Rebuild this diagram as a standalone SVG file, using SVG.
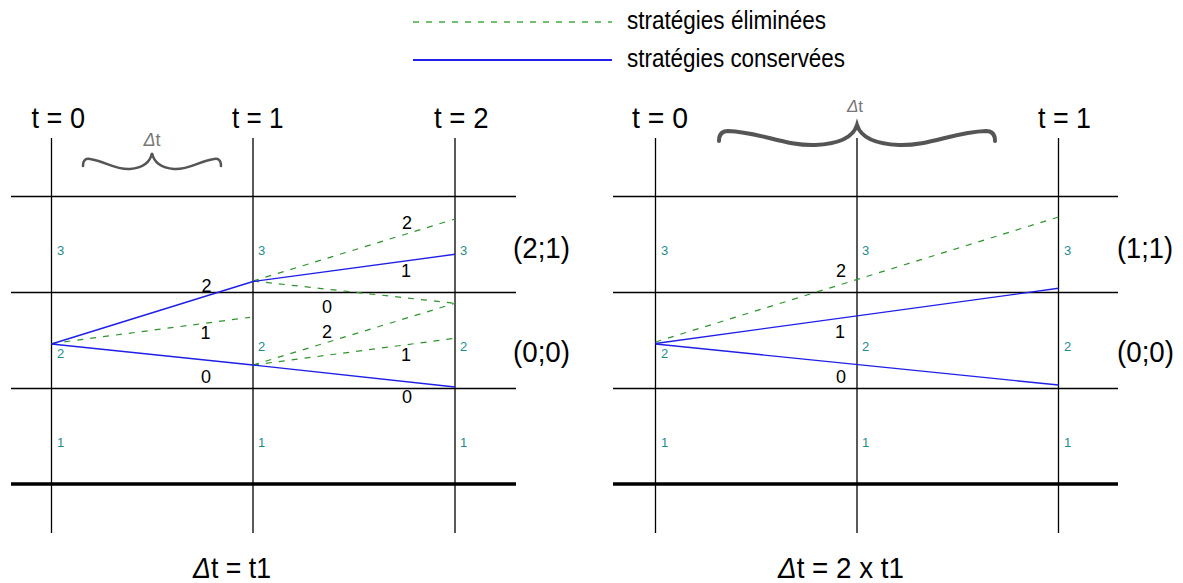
<svg xmlns="http://www.w3.org/2000/svg" width="1183" height="583" viewBox="0 0 1183 583">
<style>
text{font-family:"Liberation Sans",Arial,sans-serif}
.grid{stroke:#000;stroke-width:1.3;fill:none}
.thick{stroke:#000;stroke-width:3.5;fill:none}
.kept{stroke:#1f1fe6;stroke-width:1.4;fill:none}
.elim{stroke:#2f932f;stroke-width:1.2;stroke-dasharray:6 7;fill:none}
.brace{stroke:#555;fill:none;stroke-linecap:round}
.t{font-size:30px;fill:#000}
.b{font-size:29px;fill:#000}
.dt{fill:#777}
.lvl{font-size:13px;fill:#1f8c8c}
.num{font-size:18px;fill:#000;text-anchor:middle}
.pay{font-size:29px;fill:#000}
.leg{font-size:25px;fill:#000}
</style>
<rect width="1183" height="583" fill="#fff"/>

<g id="legend">
<line x1="413" y1="22" x2="612" y2="22" class="elim" style="stroke:#44aa44;stroke-width:1.4"/>
<line x1="413" y1="60" x2="612" y2="60" class="kept" style="stroke-width:2.2"/>
<text x="627" y="29" class="leg" textLength="199" lengthAdjust="spacingAndGlyphs">stratégies éliminées</text>
<text x="627" y="67" class="leg" textLength="218" lengthAdjust="spacingAndGlyphs">stratégies conservées</text>
</g>

<g id="panel-left">
<g id="left-grid">
<line x1="51.5" y1="138" x2="51.5" y2="533" class="grid"/>
<line x1="253" y1="138" x2="253" y2="533" class="grid"/>
<line x1="455" y1="138" x2="455" y2="533" class="grid"/>
<line x1="11" y1="196.5" x2="516" y2="196.5" class="grid"/>
<line x1="11" y1="292.5" x2="516" y2="292.5" class="grid"/>
<line x1="11" y1="388.5" x2="516" y2="388.5" class="grid"/>
<line x1="11" y1="484" x2="516" y2="484" class="thick"/>
</g>
<text x="31.5" y="128" class="t" textLength="53.5" lengthAdjust="spacingAndGlyphs">t = 0</text>
<text x="232" y="128" class="t" textLength="51.5" lengthAdjust="spacingAndGlyphs">t = 1</text>
<text x="434" y="128" class="t" textLength="54.5" lengthAdjust="spacingAndGlyphs">t = 2</text>
<path id="left-brace" class="brace" stroke-width="2.5" d="M83,166 C83,160 86,158 90,159 C105,161 115,170 130,169 C142,168 150,163 152,153 C154,163 162,168 174,169 C189,170 199,161 214,159 C218,158 221,160 221,166"/>
<text x="152" y="146" class="dt" font-size="18" text-anchor="middle"><tspan font-style="italic">Δ</tspan>t</text>
<g id="left-levels">
<text x="57" y="255" class="lvl">3</text><text x="258" y="255" class="lvl">3</text><text x="460" y="255" class="lvl">3</text>
<text x="57" y="358" class="lvl">2</text><text x="258" y="351" class="lvl">2</text><text x="460" y="351" class="lvl">2</text>
<text x="57" y="447" class="lvl">1</text><text x="258" y="447" class="lvl">1</text><text x="460" y="447" class="lvl">1</text>
</g>
<text x="513" y="258" class="pay" textLength="57" lengthAdjust="spacingAndGlyphs">(2;1)</text>
<text x="513" y="362" class="pay" textLength="57" lengthAdjust="spacingAndGlyphs">(0;0)</text>
<text x="193" y="578" class="b" textLength="78" lengthAdjust="spacingAndGlyphs"><tspan font-style="italic">Δ</tspan>t = t1</text>
</g>

<g id="panel-right">
<g id="right-grid">
<line x1="655.5" y1="138" x2="655.5" y2="533" class="grid"/>
<line x1="857" y1="138" x2="857" y2="533" class="grid"/>
<line x1="1058.5" y1="138" x2="1058.5" y2="533" class="grid"/>
<line x1="613" y1="196.5" x2="1118" y2="196.5" class="grid"/>
<line x1="613" y1="292.5" x2="1118" y2="292.5" class="grid"/>
<line x1="613" y1="388.5" x2="1118" y2="388.5" class="grid"/>
<line x1="613" y1="484" x2="1118" y2="484" class="thick"/>
</g>
<text x="632" y="128" class="t" textLength="56" lengthAdjust="spacingAndGlyphs">t = 0</text>
<text x="1038" y="128" class="t" textLength="53" lengthAdjust="spacingAndGlyphs">t = 1</text>
<path id="right-brace" class="brace" stroke-width="4" d="M719,141 C719,134 722,131 728,131 C760,132 785,146 815,145 C838,144 853,138 857,125 C861,138 876,144 899,145 C929,146 954,132 986,131 C992,131 995,134 995,141"/>
<text x="855" y="112" class="dt" font-size="17" text-anchor="middle"><tspan font-style="italic">Δ</tspan>t</text>
<g id="right-levels">
<text x="661" y="255" class="lvl">3</text><text x="862" y="255" class="lvl">3</text><text x="1064" y="255" class="lvl">3</text>
<text x="661" y="358" class="lvl">2</text><text x="862" y="351" class="lvl">2</text><text x="1064" y="351" class="lvl">2</text>
<text x="661" y="447" class="lvl">1</text><text x="862" y="447" class="lvl">1</text><text x="1064" y="447" class="lvl">1</text>
</g>
<text x="1117" y="258" class="pay" textLength="56" lengthAdjust="spacingAndGlyphs">(1;1)</text>
<text x="1117" y="362" class="pay" textLength="57" lengthAdjust="spacingAndGlyphs">(0;0)</text>
<text x="778" y="578" class="b" textLength="126" lengthAdjust="spacingAndGlyphs"><tspan font-style="italic">Δ</tspan>t = 2 x t1</text>
</g>

<g id="connectors">
<line x1="51.5" y1="343.5" x2="250" y2="317.3" class="elim"/>
<line x1="253" y1="281" x2="455" y2="219" class="elim"/>
<line x1="253" y1="281" x2="455" y2="303.3" class="elim"/>
<line x1="253" y1="365" x2="455" y2="303.3" class="elim"/>
<line x1="253" y1="365" x2="455" y2="338.3" class="elim"/>
<line x1="51.5" y1="344" x2="253" y2="281.5" class="kept"/>
<line x1="253" y1="281.5" x2="455" y2="254.3" class="kept"/>
<polyline points="51.5,344 253,365 455,387" class="kept"/>
<line x1="655.5" y1="342" x2="1058.5" y2="217" class="elim"/>
<line x1="655.5" y1="343.5" x2="1058.5" y2="288.3" class="kept"/>
<line x1="655.5" y1="344" x2="1058.5" y2="385" class="kept"/>
</g>

<g id="labels">
<text x="206.5" y="292" class="num">2</text>
<text x="205.5" y="339" class="num">1</text>
<text x="206" y="383" class="num">0</text>
<text x="407" y="229" class="num">2</text>
<text x="406" y="277" class="num">1</text>
<text x="327" y="313" class="num">0</text>
<text x="327" y="338" class="num">2</text>
<text x="406" y="360.5" class="num">1</text>
<text x="407" y="403" class="num">0</text>
<text x="841" y="277" class="num">2</text>
<text x="840" y="338" class="num">1</text>
<text x="841" y="383" class="num">0</text>
</g>
</svg>
